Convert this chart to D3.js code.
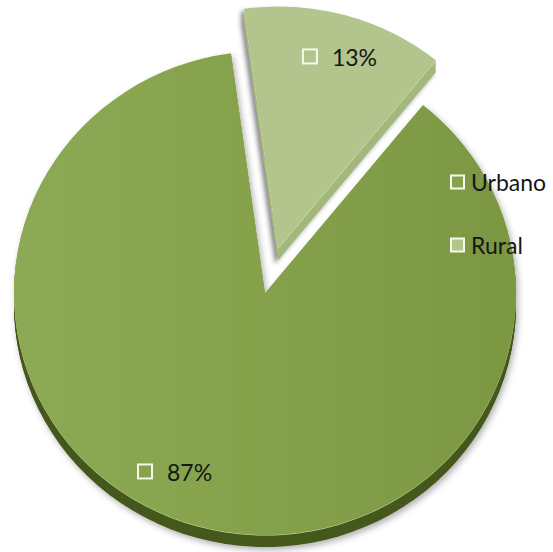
<!DOCTYPE html>
<html><head><meta charset="utf-8">
<script src="https://cdn.jsdelivr.net/npm/d3@7"></script>
<style>html,body{margin:0;padding:0;background:#fff;} svg{display:block}</style>
</head><body><svg id="c" width="553" height="552"></svg>
<script>
// ---- data ----
const categories = ["Urbano", "Rural"];
const values = [87, 13];
const valueLabels = ["87%", "13%"];

// ---- layout / style ----
const cx = 265, cy = 293, rx = 251, ry = 242, depth = 12;
const sy = ry / rx;
const startDeg = 39;
const explodeDist = [0, 48];
const topFill = ["url(#gUrb)", "#b3c58d"];
const swatch = ["#86a24b", "#b3c58d"];
const sideFill = ["#46591f", "#a4b87c"];
const rimStroke = ["#cfe0a0", "#e4efc8"];
const labelOffsets = [[-36, -7.5], [8, -5]];

const svg = d3.select("#c");
const defs = svg.append("defs");
const g1 = defs.append("linearGradient").attr("id", "gUrb").attr("x1", "0").attr("x2", "1").attr("y1", "0").attr("y2", "0");
g1.append("stop").attr("offset", "0").attr("stop-color", "#8caa55");
g1.append("stop").attr("offset", "0.55").attr("stop-color", "#84a04a");
g1.append("stop").attr("offset", "1").attr("stop-color", "#7c9742");

const f1 = defs.append("filter").attr("id", "shMain").attr("x", "-10%").attr("y", "-10%").attr("width", "120%").attr("height", "120%");
f1.append("feDropShadow").attr("dx", 2).attr("dy", 3).attr("stdDeviation", 3).attr("flood-color", "#000").attr("flood-opacity", 0.3);
const f2 = defs.append("filter").attr("id", "shRural").attr("x", "-20%").attr("y", "-20%").attr("width", "140%").attr("height", "140%");
f2.append("feDropShadow").attr("dx", -3).attr("dy", 3).attr("stdDeviation", 2).attr("flood-color", "#333").attr("flood-opacity", 0.55);

const a0 = startDeg * Math.PI / 180;
const pie = d3.pie().sort(null).value(d => d).startAngle(a0).endAngle(a0 + 2 * Math.PI);
const arcs = pie(values);
const arc = d3.arc().innerRadius(0).outerRadius(rx);
const labelArc = d3.arc().innerRadius(0.8 * rx).outerRadius(0.8 * rx);

arcs.forEach((a, i) => {
  const mid = (a.startAngle + a.endAngle) / 2;
  const ox = explodeDist[i] * Math.sin(mid);
  const oy = -explodeDist[i] * Math.cos(mid) * sy;
  const g = svg.append("g")
    .attr("transform", `translate(${cx + ox},${cy + oy})`)
    .attr("filter", i === 0 ? "url(#shMain)" : "url(#shRural)");
  for (let k = depth; k >= 1; k--) {
    g.append("path").attr("d", arc(a))
      .attr("transform", `translate(0,${k}) scale(1,${sy})`)
      .attr("fill", sideFill[i]);
  }
  g.append("path").attr("d", arc(a))
    .attr("transform", `translate(0,0.5) scale(1,${sy})`)
    .attr("fill", rimStroke[i]);
  g.append("path").attr("d", arc(a))
    .attr("transform", `scale(1,${sy})`)
    .attr("fill", topFill[i]);
});

const fontFam = "Lato, 'Open Sans', sans-serif";

// labels
arcs.forEach((a, i) => {
  const mid = (a.startAngle + a.endAngle) / 2;
  const ox = explodeDist[i] * Math.sin(mid);
  const oy = -explodeDist[i] * Math.cos(mid) * sy;
  const c = labelArc.centroid(a);
  const x = cx + ox + c[0] + labelOffsets[i][0];
  const y = cy + oy + c[1] * sy + labelOffsets[i][1];
  const lg = svg.append("g").attr("transform", `translate(${x},${y})`);
  lg.append("rect").attr("x", -37).attr("y", -7.5).attr("width", 14).attr("height", 14)
    .attr("fill", swatch[i]).attr("stroke", "#f5f9ea").attr("stroke-width", 2);
  lg.append("text").attr("x", -8).attr("y", 9)
    .attr("font-family", fontFam).attr("font-size", 23)
    .attr("fill", "#161616").text(valueLabels[i]);
});

// legend
const legY = d3.scalePoint().domain(categories).range([182.5, 245.5]);
const lg = svg.append("g");
categories.forEach((c, i) => {
  const y = legY(c);
  lg.append("rect").attr("x", 451).attr("y", y - 7).attr("width", 13).attr("height", 13)
    .attr("fill", swatch[i]).attr("stroke", "#f5f9ea").attr("stroke-width", 2);
  lg.append("text").attr("x", 471).attr("y", y + 8)
    .attr("font-family", fontFam).attr("font-size", 23)
    .attr("fill", "#161616").text(c);
});
</script></body></html>
